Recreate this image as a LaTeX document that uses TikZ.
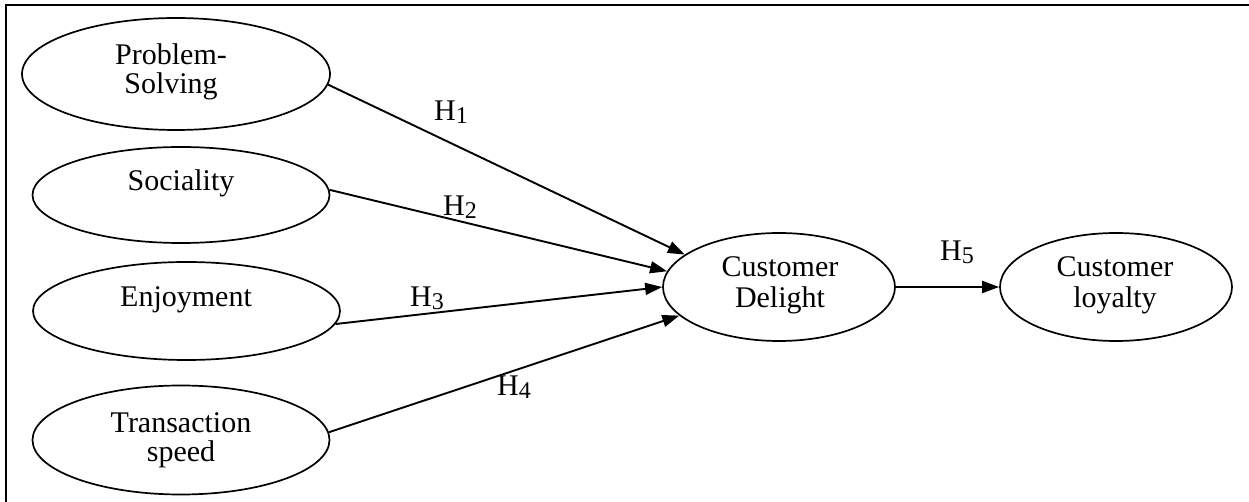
\documentclass[tikz,border=0pt]{standalone}
\usepackage{fontspec}
\setmainfont{Liberation Serif}
\usetikzlibrary{shapes.geometric,arrows.meta}
\newcommand{\hsubn}[1]{\raisebox{-1.6pt}{\fontsize{12}{12}\selectfont #1}}
\begin{document}
\begin{tikzpicture}[x=0.5pt,y=-0.5pt,
  ell/.style={ellipse,draw,line width=0.85pt,inner sep=0pt},
  txt/.style={align=center,font=\fontsize{15}{14.5}\selectfont,inner sep=0pt},
  txtw/.style={align=center,font=\fontsize{15}{15.5}\selectfont,inner sep=0pt},
  hlab/.style={font=\fontsize{15}{15}\selectfont,inner sep=0pt},
  arr/.style={line width=0.95pt,-{Triangle[length=8.5pt,width=6pt]}}]
\useasboundingbox (0,0) rectangle (1249,502);
\draw[line width=1pt] (6,502) -- (6,5) -- (1249,5);
% ellipses
\node[ell,minimum width=154pt,minimum height=56pt] (ps) at (176,74) {};
\node[ell,minimum width=148.5pt,minimum height=48pt] (so) at (181,195) {};
\node[ell,minimum width=153.5pt,minimum height=49pt] (en) at (186.5,311) {};
\node[ell,minimum width=148.5pt,minimum height=54.5pt] (ts) at (181,440) {};
\node[ell,minimum width=116pt,minimum height=54pt] (cd) at (779,287) {};
\node[ell,minimum width=116pt,minimum height=54pt] (cl) at (1116,287) {};
% texts
\node[txt] (pst) at (171,72) {Problem-\\Solving};
\node[txt] (sot) at (181,183) {Sociality};
\node[txt] (ent) at (186,300) {Enjoyment};
\node[txt] (tst) at (181,440) {Transaction\\speed};
\node[txtw] (cdt) at (780,285) {Customer\\Delight};
\node[txtw] (clt) at (1115,285) {Customer\\loyalty};
% connectors
\draw[arr] (ps.-4) -- (cd.161);
\draw[arr] (so.2) -- (cd.172);
\draw[arr] (en.-5) -- (cd.180);
\draw[arr] (ts.3) -- (cd.196);
\draw[arr] (cd.east) -- (cl.west);
% labels
\node[hlab] (h1) at (451,112) {H\hsubn{1}};
\node[hlab] (h2) at (460,207) {H\hsubn{2}};
\node[hlab] (h3) at (427,298) {H\hsubn{3}};
\node[hlab] (h4) at (514,387) {H\hsubn{4}};
\node[hlab] (h5) at (957,252) {H\hsubn{5}};
\end{tikzpicture}
\end{document}
